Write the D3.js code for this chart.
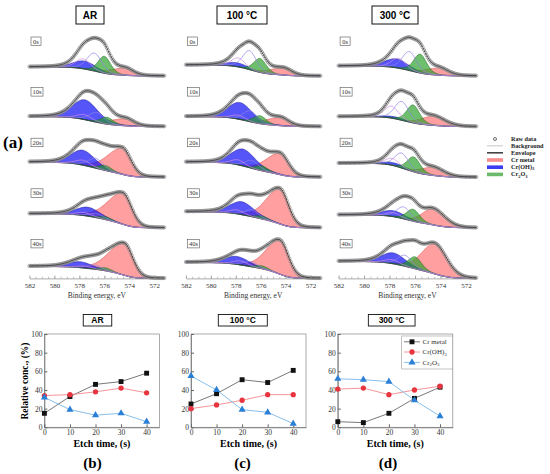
<!DOCTYPE html>
<html><head><meta charset="utf-8">
<script src="https://cdn.jsdelivr.net/npm/d3@7"></script>
<style>body{margin:0;background:#fff}svg{display:block}</style>
</head><body>
<svg id="c" width="550" height="474"></svg>
<script>
// ---------------- DATA ----------------
const conditions = ["AR", "100 °C", "300 °C"];
const etchTimes = [0, 10, 20, 30, 40];
const etchLabels = ["0s", "10s", "20s", "30s", "40s"];
const energyTicks = [582, 580, 578, 576, 574, 572];
const etchTicks = [0, 10, 20, 30, 40];
const concTicks = [0, 20, 40, 60, 80, 100];

// Cr 2p3/2 fits, one row per etch time (0,10,20,30,40 s). Intensities in a.u.
// Shirley background step (high-BE minus low-BE level)
const bgStepAR  = [9, 10, 15, 14, 12];
const bgStep100 = [11, 10, 15, 16, 16];
const bgStep300 = [10, 10, 14, 13, 17];
// Cr metal: [centre eV, height, HWHM high-BE side, HWHM low-BE side]
const metalAR  = [[574.4, 7, 1.4, 0.8], [574.35, 7, 1.4, 0.8], [574.55, 26, 1.4, 0.8], [574.5, 31, 1.45, 0.8], [574.4, 32, 1.45, 0.8]];
const metal100 = [[574.2, 7, 1.3, 0.8], [574.45, 8, 1.3, 0.8], [574.45, 21, 1.3, 0.8], [574.45, 35, 1.3, 0.8], [574.45, 34, 1.3, 0.8]];
const metal300 = [[574.2, 7, 1.2, 0.9], [574.6, 9, 1.1, 1.1], [574.6, 8, 1.1, 1.0], [574.6, 16, 1.0, 1.1], [574.45, 30, 1.2, 1.1]];
// Cr(OH)3: [centre eV, height, FWHM]
const hydroxAR  = [[577.6, 8, 2.2], [577.55, 20, 2.4], [577.7, 15, 2.3], [577.3, 9, 2.3], [577.95, 6, 2.3]];
const hydrox100 = [[577.9, 4, 2.2], [577.65, 17, 2.3], [577.4, 17, 2.3], [577.5, 13, 2.3], [577.9, 8, 2.3]];
const hydrox300 = [[577.45, 9, 2.2], [577.6, 2, 2.2], [577.6, 3, 2.2], [577.7, 6, 2.2], [577.7, 11, 2.2]];
// Cr2O3 main multiplet line (filled): [centre eV, height, FWHM]
const oxideAR  = [[576.0, 17, 1.2], [575.8, 7, 1.2], [575.9, 5, 1.2], [575.9, 3, 1.2], [575.9, 3, 1.2]];
const oxide100 = [[576.05, 14, 1.2], [576.05, 8, 1.2], [575.9, 5, 1.2], [575.9, 3, 1.2], [575.9, 3, 1.2]];
const oxide300 = [[575.6, 19, 1.2], [576.15, 18, 1.2], [576.1, 15, 1.2], [576.15, 12, 1.2], [576.0, 12, 1.2]];
// further multiplet lines (outlined)
const multA_AR  = [[576.8, 18, 1.4], [576.6, 10, 1.4], [576.7, 10, 1.4], [576.6, 4, 1.4], [576.8, 4, 1.4]];
const multA_100 = [[576.9, 19, 1.3], [576.85, 11, 1.3], [576.7, 8, 1.3], [576.7, 7, 1.3], [576.8, 5, 1.3]];
const multA_300 = [[576.45, 19, 1.3], [577.05, 19, 1.3], [577.05, 15, 1.3], [576.9, 12, 1.3], [576.8, 11, 1.3]];
const multB_AR  = [[577.7, 10, 1.4], [577.6, 5, 1.4], [577.7, 5, 1.4], [577.6, 3, 1.4], [577.6, 2, 1.4]];
const multB_100 = [[577.8, 9, 1.3], [577.8, 4, 1.3], [577.8, 5, 1.3], [577.9, 4, 1.3], [577.6, 4, 1.3]];
const multB_300 = [[577.3, 10, 1.3], [577.85, 12, 1.3], [577.8, 7, 1.3], [577.7, 4, 1.3], [577.8, 4, 1.3]];

// Relative concentrations (%) vs etch time
const crMetalAR = [15, 33, 46, 49, 58];
const crOHAR    = [34, 35, 38, 42, 37];
const cr2o3AR   = [32, 19, 13, 15, 6];
const crMetal100 = [25, 36, 51, 48, 61];
const crOH100    = [20, 24, 29, 35, 35];
const cr2o3_100  = [55, 40, 19, 16, 4];
const crMetal300 = [6, 5, 15, 31, 43];
const crOH300    = [41, 42, 35, 40, 44];
const cr2o3_300  = [52, 51, 49, 29, 12];

// ---------------- DRAW ----------------
const svg = d3.select("#c");
const serif = "'Liberation Serif','Times New Roman',serif";
const sans = "'Liberation Sans',Arial,sans-serif";

const fits = [
  {bg: bgStepAR, metal: metalAR, hyd: hydroxAR, ox: oxideAR, a: multA_AR, b: multB_AR},
  {bg: bgStep100, metal: metal100, hyd: hydrox100, ox: oxide100, a: multA_100, b: multB_100},
  {bg: bgStep300, metal: metal300, hyd: hydrox300, ox: oxide300, a: multA_300, b: multB_300}
];

function gl(E, p) { const d = E - p[0]; const t = 4 * d * d / (p[2] * p[2]); return p[1] * (0.7 * Math.exp(-Math.LN2 * t) + 0.3 / (1 + t)); }
function metalShape(E, p) {
  const d = E - p[0];
  if (d >= 0) { const u = (d / p[2]) ** 2; return p[1] * (0.75 * Math.exp(-Math.LN2 * u) + 0.25 / (1 + u)); }
  const u = (d / p[3]) ** 2; return p[1] * (0.88 * Math.exp(-Math.LN2 * u) + 0.12 / (1 + u));
}

const colRange = [[29.4, 12.49], [185.9, 12.46], [338.5, 12.76]];
const Emax = 582, Emin = 571.2;
const grid = d3.range(0, 109).map(i => +(Emax - i * 0.1).toFixed(2));
const rowPos = d3.scaleLinear().domain([0, 4]).range([76, 278.4]);

const topTitle = [[90, 28], [242, 50], [395, 46]];

fits.forEach((f, c) => {
  const x = d3.scaleLinear().domain([Emax, Emin]).range([colRange[c][0], colRange[c][0] + (Emax - Emin) * colRange[c][1]]);
  const g = svg.append("g");
  // title box
  const tt = topTitle[c];
  g.append("rect").attr("x", tt[0] - tt[1] / 2).attr("y", 6).attr("width", tt[1]).attr("height", 18)
    .attr("fill", "#fff").attr("stroke", "#111").attr("stroke-width", 1);
  g.append("text").attr("x", tt[0]).attr("y", 18.6).attr("text-anchor", "middle")
    .attr("font-family", sans).attr("font-weight", "bold").attr("font-size", 10).text(conditions[c]);

  etchTimes.forEach((t, r) => {
    const rz = rowPos(r);
    const y = d3.scaleLinear().domain([0, 50]).range([rz, rz - 50]);
    const pts = grid.map(E => {
      const m = metalShape(E, f.metal[r]), h = gl(E, f.hyd[r]), o = gl(E, f.ox[r]), a = gl(E, f.a[r]), b = gl(E, f.b[r]);
      return {E, m, h, o, a, b, tot: m + h + o + a + b};
    });
    // Shirley-type background
    const S = new Array(pts.length).fill(0);
    for (let i = pts.length - 2; i >= 0; i--) S[i] = S[i + 1] + (pts[i].tot + pts[i + 1].tot) / 2 * 0.1;
    pts.forEach((p, i) => { p.bg = f.bg[r] * S[i] / S[0]; p.env = p.bg + p.tot; });

    const gs = g.append("g");
    const bgLine = d3.line().x(d => x(d.E)).y(d => y(d.bg));
    gs.append("path").datum(pts).attr("d", bgLine).attr("fill", "none").attr("stroke", "#c8c8c8").attr("stroke-width", 0.8);
    const comp = [
      ["m", "rgba(255,80,80,0.55)", "#d23c3c"],
      ["h", "rgba(20,20,245,0.72)", "#10108a"],
      ["o", "rgba(40,160,40,0.68)", "#145c14"]
    ];
    comp.forEach(([k, fill, stroke]) => {
      const ar = d3.area().x(d => x(d.E)).y0(d => y(d.bg)).y1(d => y(d.bg + d[k]));
      gs.append("path").datum(pts).attr("d", ar).attr("fill", fill).attr("stroke", stroke).attr("stroke-width", 0.45);
    });
    [["a", "#8f82e6"], ["b", "#d28ee0"]].forEach(([k, col]) => {
      const ln = d3.line().x(d => x(d.E)).y(d => y(d.bg + d[k]));
      gs.append("path").datum(pts).attr("d", ln).attr("fill", "none").attr("stroke", col).attr("stroke-width", 0.7);
    });
    // raw data (open circles)
    gs.selectAll(null).data(pts).join("circle")
      .attr("cx", d => x(d.E)).attr("cy", d => y(d.env)).attr("r", 1.6)
      .attr("fill", "none").attr("stroke", "#8c8c8c").attr("stroke-width", 0.75);
    // envelope
    gs.append("path").datum(pts).attr("d", d3.line().x(d => x(d.E)).y(d => y(d.env)))
      .attr("fill", "none").attr("stroke", "#222").attr("stroke-width", 0.7);
    // etch-time label
    const lw = etchLabels[r].length > 2 ? 12 : 10;
    gs.append("rect").attr("x", x(Emax) + 1.6).attr("y", rz - 39).attr("width", lw).attr("height", 8.5)
      .attr("fill", "#fff").attr("stroke", "#555").attr("stroke-width", 0.6);
    gs.append("text").attr("x", x(Emax) + 1.6 + lw / 2).attr("y", rz - 32.4).attr("text-anchor", "middle")
      .attr("font-family", serif).attr("font-size", 6.5).attr("fill", "#333").text(etchLabels[r]);
  });

  // energy axis
  const ax = g.append("g").attr("transform", `translate(0,${rowPos(4)})`);
  ax.call(d3.axisBottom(x).tickValues(energyTicks).tickSizeInner(-3).tickSizeOuter(0).tickPadding(5));
  ax.append("g").call(d3.axisBottom(x).tickValues(d3.range(582, 571.1, -0.5)).tickSizeInner(-1.6).tickSizeOuter(0).tickFormat(""))
    .select(".domain").remove();
  ax.selectAll("path.domain").attr("stroke", "#888").attr("stroke-width", 0.7);
  ax.selectAll("line").attr("stroke", "#888").attr("stroke-width", 0.6);
  ax.selectAll("text").attr("font-family", serif).attr("font-size", 7).attr("fill", "#333");
  g.append("text").attr("x", (x(Emax) + x(Emin)) / 2).attr("y", 297.5).attr("text-anchor", "middle")
    .attr("font-family", serif).attr("font-size", 7.5).attr("fill", "#333").text("Binding energy, eV");
});

// (a) label
svg.append("text").attr("x", 3).attr("y", 148).attr("font-family", serif).attr("font-weight", "bold").attr("font-size", 17).text("(a)");

// top-right legend
const lg = svg.append("g").attr("font-family", serif).attr("font-weight", "bold").attr("font-size", 6.2).attr("fill", "#222");
const legItems = [
  ["raw", "Raw data"], ["bg", "Background"], ["env", "Envelope"], ["m", "Cr metal"], ["h", "Cr(OH)3"], ["o", "Cr2O3"]
];
const legY = [139, 145.8, 152.8, 160, 167.2, 174.4];
legItems.forEach(([k, lab], i) => {
  const yy = legY[i];
  if (k === "raw") lg.append("circle").attr("cx", 495).attr("cy", yy).attr("r", 1.5).attr("fill", "none").attr("stroke", "#333").attr("stroke-width", 0.7);
  if (k === "bg") lg.append("line").attr("x1", 487).attr("x2", 503).attr("y1", yy).attr("y2", yy).attr("stroke", "#c8c8c8").attr("stroke-width", 1);
  if (k === "env") lg.append("line").attr("x1", 487).attr("x2", 503).attr("y1", yy).attr("y2", yy).attr("stroke", "#444").attr("stroke-width", 1.6);
  const fills = {m: "#f88c8c", h: "#3c3cf2", o: "#6cba6c"};
  if (fills[k]) lg.append("rect").attr("x", 487).attr("y", yy - 1.8).attr("width", 16).attr("height", 3.6).attr("fill", fills[k]);
  const t = lg.append("text").attr("x", 511).attr("y", yy + 2);
  if (k === "h") { t.append("tspan").text("Cr(OH)"); t.append("tspan").attr("font-size", 4.5).attr("dy", 1.2).text("3"); }
  else if (k === "o") { t.append("tspan").text("Cr"); t.append("tspan").attr("font-size", 4.5).attr("dy", 1.2).text("2");
    t.append("tspan").attr("dy", -1.2).text("O"); t.append("tspan").attr("font-size", 4.5).attr("dy", 1.2).text("3"); }
  else t.text(lab);
});

// ---------------- bottom panels ----------------
const comps = [
  [crMetalAR, crOHAR, cr2o3AR],
  [crMetal100, crOH100, cr2o3_100],
  [crMetal300, crOH300, cr2o3_300]
];
const seriesNames = ["Cr metal", "Cr(OH)3", "Cr2O3"];
const seriesStyle = [
  {sym: d3.symbolSquare, size: 24, fill: "#111", line: "#555"},
  {sym: d3.symbolCircle, size: 22, fill: "#e8343e", line: "#f27a80"},
  {sym: d3.symbolTriangle, size: 22, fill: "#2a7fd6", line: "#6aaee6"}
];
const panelX = [44.4, 191, 337.8];
const panelLetters = ["(b)", "(c)", "(d)"];
const panelLetterX = [92.5, 242.5, 388];
const botTitle = [[97.5, 28.5], [242.8, 49], [391.7, 46.7]];
const yB = d3.scaleLinear().domain([0, 100]).range([427.3, 334]);

comps.forEach((ser, c) => {
  const x = d3.scaleLinear().domain([0, 45]).range([panelX[c], panelX[c] + 115]);
  const g = svg.append("g");
  const bt = botTitle[c];
  g.append("rect").attr("x", bt[0] - bt[1] / 2).attr("y", 314.5).attr("width", bt[1]).attr("height", 11.5)
    .attr("fill", "#fff").attr("stroke", "#111").attr("stroke-width", 0.9);
  g.append("text").attr("x", bt[0]).attr("y", 323.3).attr("text-anchor", "middle")
    .attr("font-family", sans).attr("font-weight", "bold").attr("font-size", 8.5).text(conditions[c]);

  g.append("rect").attr("x", x(0)).attr("y", yB(100)).attr("width", x(45) - x(0)).attr("height", yB(0) - yB(100))
    .attr("fill", "none").attr("stroke", "#888").attr("stroke-width", 0.7);
  const axb = g.append("g").attr("transform", `translate(0,${yB(0)})`)
    .call(d3.axisBottom(x).tickValues(etchTicks).tickSizeInner(-3).tickSizeOuter(0).tickPadding(2));
  const axl = g.append("g").attr("transform", `translate(${x(0)},0)`)
    .call(d3.axisLeft(yB).tickValues(concTicks).tickSizeInner(-3).tickSizeOuter(0).tickPadding(2));
  [axb, axl].forEach(a => {
    a.selectAll("path.domain").attr("stroke", "#666").attr("stroke-width", 0.7);
    a.selectAll("line").attr("stroke", "#666");
    a.selectAll("text").attr("font-family", serif).attr("font-size", 7.5).attr("fill", "#333");
  });

  ser.forEach((vals, s) => {
    const st = seriesStyle[s];
    g.append("path").datum(vals).attr("d", d3.line().x((d, i) => x(etchTimes[i])).y(d => yB(d)))
      .attr("fill", "none").attr("stroke", st.line).attr("stroke-width", 0.8);
    g.selectAll(null).data(vals).join("path")
      .attr("transform", (d, i) => `translate(${x(etchTimes[i])},${yB(d)})`)
      .attr("d", d3.symbol().type(st.sym).size(st.size)).attr("fill", st.fill);
  });

  g.append("text").attr("x", (x(0) + x(45)) / 2).attr("y", 447).attr("text-anchor", "middle")
    .attr("font-family", serif).attr("font-weight", "bold").attr("font-size", 10).text("Etch time, (s)");
  g.append("text").attr("x", panelLetterX[c]).attr("y", 468).attr("text-anchor", "middle")
    .attr("font-family", serif).attr("font-weight", "bold").attr("font-size", 15).text(panelLetters[c]);

  if (c === 2) {
    const lgb = g.append("g");
    lgb.append("rect").attr("x", 401.7).attr("y", 336).attr("width", 51).attr("height", 33)
      .attr("fill", "#fff").attr("stroke", "#999").attr("stroke-width", 0.6);
    [341.8, 352, 362.4].forEach((yy, s) => {
      const st = seriesStyle[s];
      lgb.append("line").attr("x1", 404).attr("x2", 420).attr("y1", yy).attr("y2", yy).attr("stroke", st.line).attr("stroke-width", 0.8);
      lgb.append("path").attr("transform", `translate(412,${yy})`).attr("d", d3.symbol().type(st.sym).size(st.size)).attr("fill", st.fill);
      const t = lgb.append("text").attr("x", 422.5).attr("y", yy + 2.4).attr("font-family", serif).attr("font-size", 7).attr("fill", "#333");
      if (s === 0) t.text(seriesNames[0]);
      else if (s === 1) { t.append("tspan").text("Cr(OH)"); t.append("tspan").attr("font-size", 5).attr("dy", 1.5).text("3"); }
      else { t.append("tspan").text("Cr"); t.append("tspan").attr("font-size", 5).attr("dy", 1.5).text("2");
        t.append("tspan").attr("dy", -1.5).text("O"); t.append("tspan").attr("font-size", 5).attr("dy", 1.5).text("3"); }
    });
  }
});
svg.append("text").attr("transform", "translate(28,381) rotate(-90)").attr("text-anchor", "middle")
  .attr("font-family", serif).attr("font-weight", "bold").attr("font-size", 9.5).text("Relative conc., (%)");
</script>
</body></html>
